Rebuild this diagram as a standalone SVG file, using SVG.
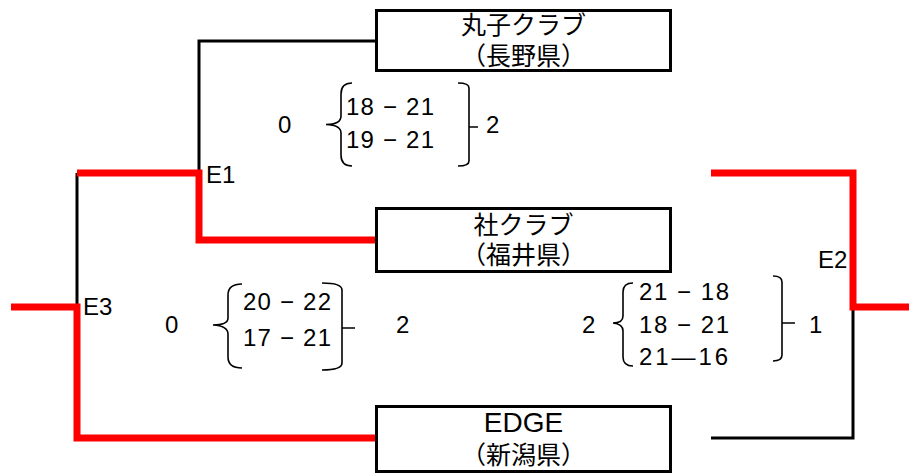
<svg xmlns="http://www.w3.org/2000/svg" width="909" height="475" viewBox="0 0 909 475">
<style>
text{font-family:"Liberation Sans","Noto Sans CJK JP",sans-serif;fill:#000}
.lbl{font-size:25px;text-anchor:middle}
.num{font-size:24px}
.box{fill:#fff;stroke:#000;stroke-width:3}
.blk{fill:none;stroke:#000;stroke-width:3}
.red{fill:none;stroke:#f00;stroke-width:7;stroke-linejoin:miter}
.br{fill:none;stroke:#000;stroke-width:1.6}
</style>
<g id="connectors">
<path class="blk" d="M375,41 H199 V172"/>
<path class="blk" d="M77,173 V306"/>
<path class="blk" d="M853,307 V438 H711"/>
<path class="red" d="M77,173 H199 V240 H375"/>
<path class="red" d="M11,307 H77 V438 H375"/>
<path class="red" d="M711,173 H853 V307 H909"/>
</g>
<g id="node-maruko">
<rect class="box" x="376.5" y="10.5" width="294" height="60"/>
<text class="lbl" x="523.5" y="34">丸子クラブ</text>
<text class="lbl" x="523.5" y="64.5">（長野県）</text>
</g>
<g id="node-yashiro">
<rect class="box" x="376.5" y="208.5" width="294" height="63"/>
<text class="lbl" x="523.5" y="233.5">社クラブ</text>
<text class="lbl" x="523.5" y="264">（福井県）</text>
</g>
<g id="node-edge">
<rect class="box" x="376.5" y="406.5" width="294" height="65"/>
<text class="lbl" x="523.5" y="432" style="font-size:28px">EDGE</text>
<text class="lbl" x="523.5" y="464">（新潟県）</text>
</g>
<g id="labels">
<text class="num" x="206" y="183">E1</text>
<text class="num" x="83" y="315">E3</text>
<text class="num" x="818" y="268">E2</text>
</g>
<g id="match-E1">
<text class="num" x="278" y="133">0</text>
<path class="br" d="M352,83 Q341,83 341,94 V116 Q341,124.5 326,124.5 Q341,125 341,133 V155 Q341,166 352,166"/>
<text class="num" x="346" y="115" textLength="88" lengthAdjust="spacing">18 − 21</text>
<text class="num" x="346" y="148" textLength="88" lengthAdjust="spacing">19 − 21</text>
<path class="br" d="M458,83 Q469,83 469,88 V161 Q469,166 458,166 M469,127 H478"/>
<text class="num" x="486" y="133">2</text>
</g>
<g id="match-E3">
<text class="num" x="165" y="333">0</text>
<path class="br" d="M242,284 Q228,284 228,295 V318 Q228,325 213,325 Q228,326 228,334 V357 Q228,368 242,368"/>
<text class="num" x="243" y="310" textLength="88" lengthAdjust="spacing">20 − 22</text>
<text class="num" x="243" y="346" textLength="88" lengthAdjust="spacing">17 − 21</text>
<path class="br" d="M322,283 Q342,283 342,290 V363 Q342,370 322,370 M342,328 H355"/>
<text class="num" x="396" y="333">2</text>
</g>
<g id="match-E2">
<text class="num" x="582" y="333">2</text>
<path class="br" d="M633,283 Q623,283 623,292 V316 Q623,323 613,323 Q623,324 623,331 V357 Q623,366 633,366"/>
<text class="num" x="639" y="300" textLength="90" lengthAdjust="spacing">21 − 18</text>
<text class="num" x="639" y="333" textLength="90" lengthAdjust="spacing">18 − 21</text>
<text class="num" x="639" y="365" textLength="89" lengthAdjust="spacing">21—16</text>
<path class="br" d="M773,276 Q782,276 782,282 V355 Q782,361 773,361 M782,323 H795"/>
<text class="num" x="809" y="333">1</text>
</g>
</svg>
